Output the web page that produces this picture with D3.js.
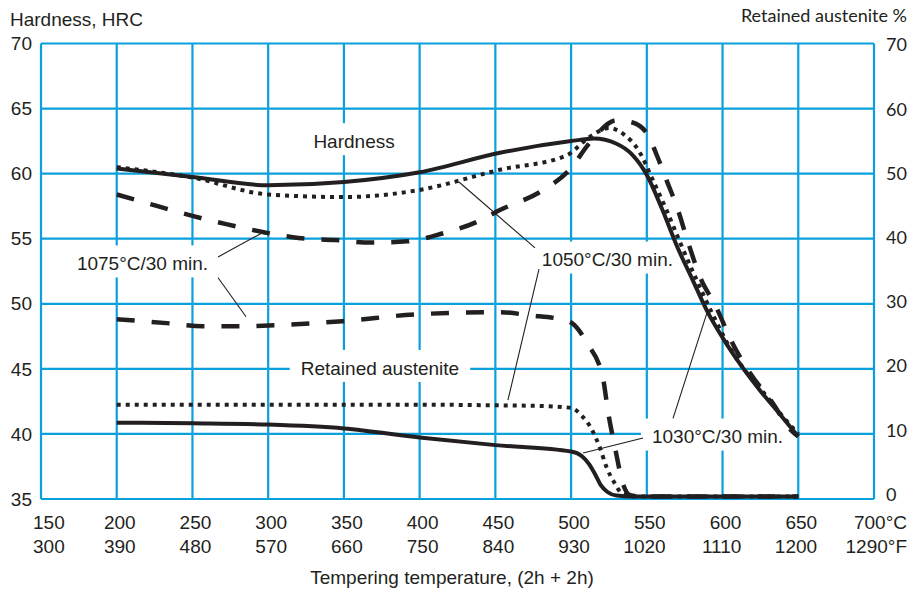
<!DOCTYPE html>
<html>
<head>
<meta charset="utf-8">
<script src="https://cdn.jsdelivr.net/npm/d3@7"></script>
<style>
  body { margin: 0; background: #fff; }
  svg { display: block; }
  text { font-family: "Liberation Sans", Arial, sans-serif; fill: #231f20; }
  .ra { font-family: Lato, "Open Sans", sans-serif; }
</style>
</head>
<body>
<div id="chart"></div>
<script>
// tempering temperature axis (°C on top row, °F below)
var tempC = [150, 200, 250, 300, 350, 400, 450, 500, 550, 600, 650, 700];
var tempF = [300, 390, 480, 570, 660, 750, 840, 930, 1020, 1110, 1200, 1290];
var hardTicks = [35, 40, 45, 50, 55, 60, 65, 70];
var raTicks = [0, 10, 20, 30, 40, 50, 60, 70];

// hardness HRC, 1030°C/30 min. (solid)
var hard1030T = [200, 250, 300, 350, 400, 453, 500, 515, 530, 540, 550, 560, 570, 580, 590, 600, 612, 625, 638, 650];
var hard1030 = [60.4, 59.75, 59.1, 59.35, 60.1, 61.6, 62.5, 62.7, 62.3, 61.5, 59.9, 57.3, 54.4, 51.9, 49.4, 47.4, 45.3, 43.3, 41.5, 39.8];

// hardness HRC, 1050°C/30 min. (dotted)
var hard1050T = [200, 250, 300, 350, 400, 453, 497, 512, 525, 535, 545, 554, 563, 572, 583, 593, 607, 618, 629, 640, 650];
var hard1050 = [60.5, 59.7, 58.4, 58.2, 58.75, 60.3, 61.4, 62.8, 63.5, 63.0, 61.7, 59.5, 57.2, 54.7, 51.8, 49.3, 46.2, 44.4, 42.9, 41.3, 40.0];

// hardness HRC, 1075°C/30 min. (dashed)
var hard1075T = [200, 227, 250, 273, 297, 320, 344, 368, 392, 415, 438, 453, 481, 499, 512.5, 530, 540, 550, 557, 563, 570, 576.5, 585, 596, 606, 618, 633, 645, 650];
var hard1075 = [58.4, 57.5, 56.75, 56.1, 55.5, 55.06, 54.9, 54.7, 54.8, 55.4, 56.3, 57.2, 58.7, 60.3, 62.4, 64.1, 63.95, 63.1, 61.3, 59.5, 57.4, 55.0, 52.1, 49.7, 47.1, 44.7, 42.4, 40.3, 39.8];

// retained austenite %, 1030°C/30 min. (solid)
var ra1030T = [200, 250, 300, 350, 400, 450, 500, 507, 512, 516, 519.5, 524, 530, 540, 650];
var ra1030 = [11.5, 11.4, 11.2, 10.6, 9.2, 8.0, 7.0, 6.3, 5.0, 3.4, 1.8, 0.7, 0.15, 0, 0];

// retained austenite %, 1050°C/30 min. (dotted)
var ra1050T = [200, 300, 400, 450, 480, 500, 507, 514, 519, 523.5, 529, 533.5, 545, 650];
var ra1050 = [14.3, 14.3, 14.3, 14.2, 14.1, 13.8, 12.6, 10.3, 7.6, 4.5, 2.0, 0.5, 0, 0];

// retained austenite %, 1075°C/30 min. (dashed)
var ra1075T = [200, 233, 257, 281, 306, 349, 400, 453, 473, 493, 500.6, 510.5, 521, 524.4, 529, 534.5, 539, 545, 650];
var ra1075 = [27.6, 27.0, 26.5, 26.5, 26.7, 27.3, 28.4, 28.7, 28.2, 27.6, 27.0, 23.9, 18.5, 13.2, 7.6, 1.8, 0.2, 0, 0];

// labels in the plot (position in °C / HRC)
var labelText = ['Hardness', 'Retained austenite', '1075°C/30 min.', '1050°C/30 min.', '1030°C/30 min.'];
var labelT = [356.7, 373.8, 217.0, 524.0, 596.7];
var labelH = [62.5, 45.07, 53.1, 53.4, 39.8];

// leader lines: from [T, HRC] to [T, HRC]
var leaders = [
    [266.9, 53.6, 295.9, 55.44],
    [266.9, 52.0, 285.4, 49.0],
    [426.0, 59.36, 476.2, 54.29],
    [478.8, 52.67, 458.3, 42.6],
    [507.9, 38.53, 547.5, 39.69],
    [567.3, 41.2, 589.7, 49.3]
];

var W = 908, H = 592;
var plotL = 41, plotR = 874, plotT = 43.5, plotB = 499;
var grid = '#0aa0dc';

var svg = d3.select('#chart').append('svg').attr('width', W).attr('height', H);

var x = d3.scaleLinear().domain([150, 700]).range([plotL, plotR]);
var yL = d3.scaleLinear().domain([35, 70]).range([plotB, plotT]);
var yR = d3.scaleLinear().domain([0, 70]).range([496.5, 47]);

// grid
var g = svg.append('g');
g.selectAll('line.h').data(hardTicks).enter().append('line')
    .attr('x1', plotL).attr('x2', plotR)
    .attr('y1', function(d) { return yL(d); }).attr('y2', function(d) { return yL(d); })
    .style('stroke', grid).style('stroke-width', 2.2);
g.selectAll('line.v').data(tempC).enter().append('line')
    .attr('y1', plotT).attr('y2', plotB)
    .attr('x1', function(d) { return x(d); }).attr('x2', function(d) { return x(d); })
    .style('stroke', grid).style('stroke-width', 2.2);

// white boxes behind in-plot labels, then the labels
var lab = svg.append('g');
labelText.forEach(function(t, i) {
    var cx = x(labelT[i]), cy = yL(labelH[i]);
    var box = lab.append('rect').style('fill', '#fff');
    var txt = lab.append('text')
        .attr('x', cx).attr('y', cy).attr('dy', '0.35em')
        .attr('text-anchor', 'middle')
        .style('font-size', '19px')
        .text(t);
    var w = txt.node().getComputedTextLength();
    box.attr('x', cx - w / 2 - 11).attr('width', w + 22)
        .attr('y', cy - 18).attr('height', 32);
});

// leader lines
svg.append('g').selectAll('line').data(leaders).enter().append('line')
    .attr('x1', function(d) { return x(d[0]); }).attr('y1', function(d) { return yL(d[1]); })
    .attr('x2', function(d) { return x(d[2]); }).attr('y2', function(d) { return yL(d[3]); })
    .style('stroke', '#231f20').style('stroke-width', 1.1);

// curves
function drawCurve(ts, vs, yScale, dash) {
    var line = d3.line()
        .x(function(d, i) { return x(ts[i]); })
        .y(function(d) { return yScale(d); })
        .curve(d3.curveMonotoneX);
    svg.append('path').datum(vs)
        .attr('d', line)
        .style('fill', 'none')
        .style('stroke', '#231f20')
        .style('stroke-width', dash == 'dash' ? 4.5 : 4)
        .style('stroke-dasharray', dash == 'dot' ? '4,5' : (dash == 'dash' ? '18,17' : null))
        .style('stroke-linejoin', 'round');
}

drawCurve(ra1075T, ra1075, yR, 'dash');
drawCurve(ra1050T, ra1050, yR, 'dot');
drawCurve(ra1030T, ra1030, yR, 'solid');
drawCurve(hard1075T, hard1075, yL, 'dash');
drawCurve(hard1050T, hard1050, yL, 'dot');
drawCurve(hard1030T, hard1030, yL, 'solid');

// left axis labels
svg.append('g').selectAll('text').data(hardTicks).enter().append('text')
    .attr('x', 32).attr('y', function(d) { return yL(d); }).attr('dy', '0.35em')
    .attr('text-anchor', 'end').style('font-size', '19px')
    .text(function(d) { return d; });

// right axis labels
svg.append('g').selectAll('text').data(raTicks).enter().append('text')
    .attr('class', 'ra')
    .attr('x', 886).attr('y', function(d) { return yR(d) - 2; }).attr('dy', '0.35em')
    .attr('text-anchor', 'start').style('font-size', '18px')
    .text(function(d) { return d; });

// bottom labels, °C row and °F row (°F right-aligned to °C)
var xl = svg.append('g');
tempC.forEach(function(c, i) {
    var last = i == tempC.length - 1;
    var t1 = xl.append('text').attr('y', 529).style('font-size', '19px').text(c);
    var nw = t1.node().getComputedTextLength();
    var sx = Math.max(x(c) + 3 - nw / 2, 33);
    if (last) t1.text(c + '°C');
    t1.attr('x', sx);
    var endX = Math.min(sx + t1.node().getComputedTextLength(), 907);
    if (last) t1.attr('x', endX).attr('text-anchor', 'end');
    xl.append('text').attr('y', 553).style('font-size', '19px')
        .attr('x', endX).attr('text-anchor', 'end')
        .text(last ? tempF[i] + '°F' : tempF[i]);
});

// titles
svg.append('text').attr('x', 10).attr('y', 26).style('font-size', '19px').text('Hardness, HRC');
svg.append('text').attr('class', 'ra').attr('x', 907).attr('y', 22)
    .attr('text-anchor', 'end').style('font-size', '18px').text('Retained austenite %');
svg.append('text').attr('x', 452).attr('y', 584).attr('text-anchor', 'middle')
    .style('font-size', '19px').text('Tempering temperature, (2h + 2h)');
</script>
</body>
</html>
